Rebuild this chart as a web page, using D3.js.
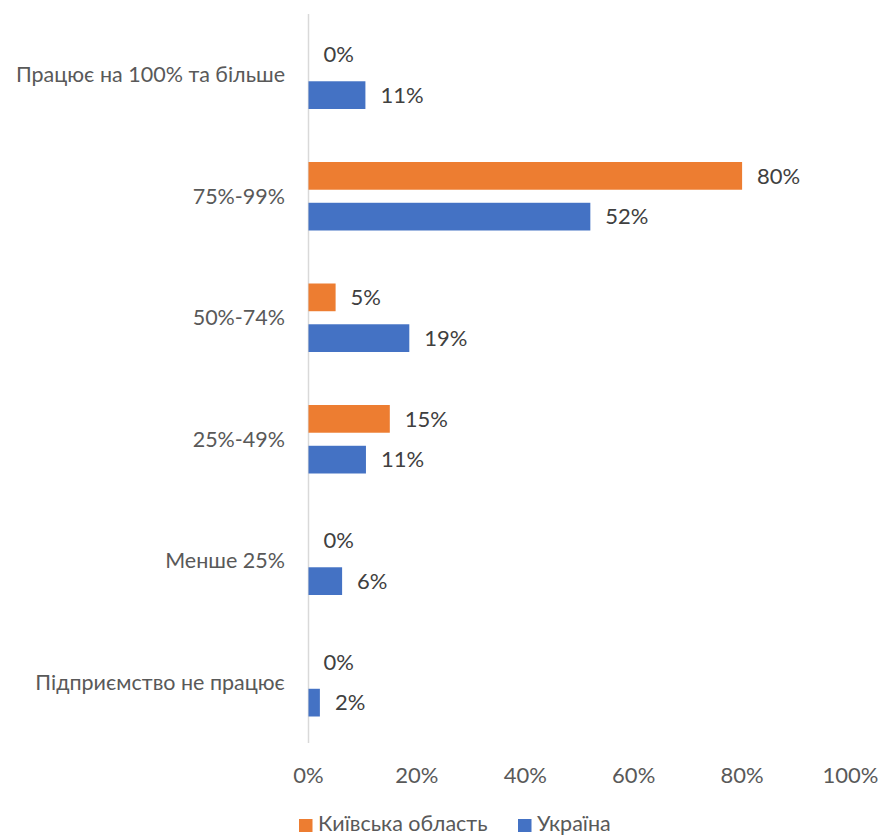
<!DOCTYPE html>
<html>
<head>
<meta charset="utf-8">
<script src="https://cdn.jsdelivr.net/npm/d3@7"></script>
<style>
html,body{margin:0;padding:0;background:#fff;}
svg{display:block;font-family:Lato,"Noto Sans",sans-serif;}
</style>
</head>
<body>
<svg id="chart" width="879" height="837"></svg>
<script>
const categories = ["Працює на 100% та більше","75%-99%","50%-74%","25%-49%","Менше 25%","Підприємство не працює"];
const seriesNames = ["Київська область","Україна"];
const kyivValues = [0, 80, 5, 15, 0, 0];
const ukraineValues = [10.5, 52, 18.6, 10.6, 6.2, 2.1];
const ukraineLabels = ["11%","52%","19%","11%","6%","2%"];
const kyivLabels = ["0%","80%","5%","15%","0%","0%"];
const xTicks = [0,20,40,60,80,100];
const colors = ["#ED7D31","#4472C4"];

const svg = d3.select("#chart");
const x = d3.scaleLinear().domain([0,100]).range([308.5,850.5]);
const y = d3.scaleBand().domain(categories).range([14,743]).paddingInner(0).paddingOuter(0);
const sub = d3.scaleBand().domain(seriesNames).range([26.5, y.bandwidth()-26.5]).paddingInner(0.32);

// axis line
svg.append("line").attr("x1",x(0)).attr("x2",x(0)).attr("y1",14).attr("y2",743)
  .attr("stroke","#D9D9D9").attr("stroke-width",1.5);

const data = [kyivValues, ukraineValues];
const labels = [kyivLabels, ukraineLabels];
seriesNames.forEach((s,si)=>{
  const g = svg.append("g");
  categories.forEach((c,ci)=>{
    const v = data[si][ci];
    const y0 = y(c)+sub(s);
    if (v>0) {
      g.append("rect").attr("x",x(0)).attr("y",y0).attr("width",x(v)-x(0)).attr("height",sub.bandwidth())
        .attr("fill",colors[si]);
    }
    g.append("text").attr("x",x(v)+15).attr("y",y0+sub.bandwidth()/2)
      .attr("dy","0.35em").attr("font-size",22).attr("fill","#404040").text(labels[si][ci]);
  });
});

// category labels
svg.append("g").selectAll("text").data(categories).join("text")
  .attr("x",285).attr("y",d=>y(d)+y.bandwidth()/2).attr("dy","0.35em")
  .attr("text-anchor","end").attr("font-size",21.5).attr("fill","#595959").text(d=>d);

// x tick labels
svg.append("g").selectAll("text").data(xTicks).join("text")
  .attr("x",d=>x(d)).attr("y",775).attr("dy","0.35em").attr("text-anchor","middle")
  .attr("font-size",22).attr("fill","#595959").text(d=>d+"%");

// legend
const legend = [{name:seriesNames[0],x:299,color:colors[0]},{name:seriesNames[1],x:518,color:colors[1]}];
const lg = svg.append("g").selectAll("g").data(legend).join("g");
lg.append("rect").attr("x",d=>d.x).attr("y",819).attr("width",13.5).attr("height",13).attr("fill",d=>d.color);
lg.append("text").attr("x",d=>d.x+19).attr("y",831).attr("font-size",21.5)
  .attr("fill","#595959").text(d=>d.name);
</script>
</body>
</html>
